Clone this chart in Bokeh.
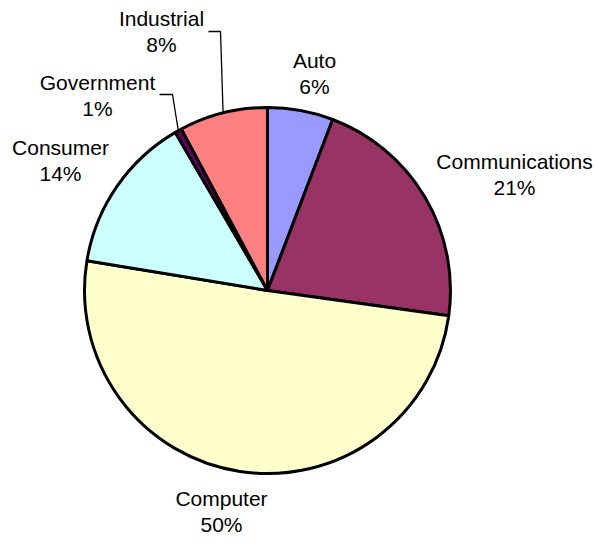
import math
from bokeh.plotting import figure
from bokeh.models import Range1d, ColumnDataSource
from bokeh.core.properties import value
from bokeh.embed import file_html
from bokeh.resources import INLINE

# ---- data ----
categories = ["Auto", "Communications", "Computer", "Consumer", "Government", "Industrial"]
shares = [5.8, 21.4, 50.4, 14.0, 0.6, 7.8]
colors = ["#9999FF", "#993366", "#FFFFCC", "#CCFFFF", "#660066", "#FF8080"]

# ---- layout (pixel coords, y downward) ----
W, H = 597, 544
cx, cy, R = 267, 290, 183
label_pos = {
    "Auto": (314, 60),
    "Communications": (514, 161),
    "Computer": (221, 498),
    "Consumer": (60, 147),
    "Government": (97, 82),
    "Industrial": (161, 18),
}
leaders = {"Industrial": (208, 31, 220), "Government": (159, 94, 172)}
LINE_GAP = 26

def Y(y):
    return H - y

p = figure(width=W, height=H, output_backend="svg", toolbar_location=None,
           x_range=Range1d(0, W), y_range=Range1d(0, H), min_border=0)
p.axis.visible = False
p.grid.visible = False
p.outline_line_color = None
p.background_fill_color = "white"
p.border_fill_color = "white"

total = sum(shares)
starts, ends, mids = [], [], []
cum = 0.0
for s in shares:
    a0 = math.pi / 2 - 2 * math.pi * cum / total
    cum += s
    a1 = math.pi / 2 - 2 * math.pi * cum / total
    starts.append(a0)
    ends.append(a1)
    mids.append((a0 + a1) / 2)

src = ColumnDataSource(dict(start=starts, end=ends, color=colors))
p.wedge(x=cx, y=Y(cy), radius=R, start_angle="start", end_angle="end",
        direction="clock", fill_color="color", line_color="black", line_width=3,
        source=src)

pct = [f"{round(100 * s / total)}%" for s in shares]
xs, y1, y2 = [], [], []
for c in categories:
    x, y = label_pos[c]
    xs.append(x)
    y1.append(Y(y))
    y2.append(Y(y + LINE_GAP))

font = value("Liberation Sans")
p.text(x=xs, y=y1, text=categories, text_font=font, text_font_size="21px",
       text_align="center", text_baseline="middle", text_color="black")
p.text(x=xs, y=y2, text=pct, text_font=font, text_font_size="21px",
       text_align="center", text_baseline="middle", text_color="black")

# leader lines
for i, c in enumerate(categories):
    if c in leaders:
        x0, y0, x1 = leaders[c]
        ex = cx + R * math.cos(mids[i])
        ey = Y(cy) + R * math.sin(mids[i])
        p.line(x=[x0, x1, ex], y=[Y(y0), Y(y0), ey], line_color="black", line_width=1.3)

open("out.html", "w").write(file_html(p, INLINE))
